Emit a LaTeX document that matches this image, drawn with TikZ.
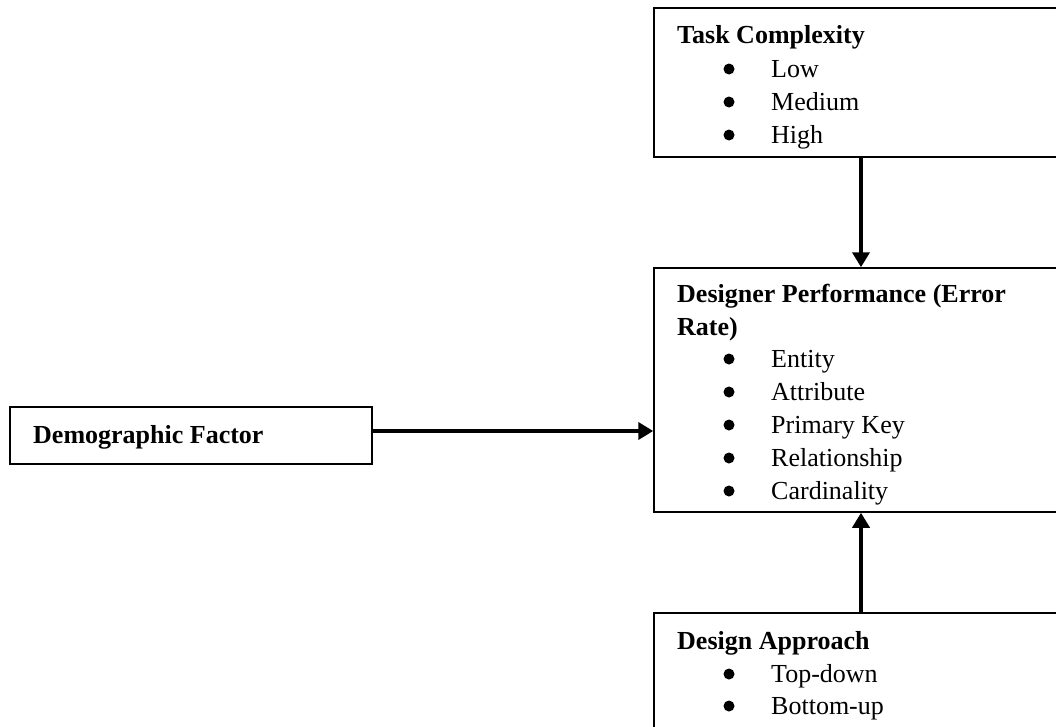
\documentclass[tikz,border=0pt]{standalone}
\usepackage{fontspec}
\setmainfont{Liberation Serif}
\usetikzlibrary{arrows.meta}
\begin{document}
\begin{tikzpicture}[x=1pt,y=-1pt,
  box/.style={draw=black,line width=1.5pt,inner sep=0pt},
  txt/.style={anchor=base west,inner sep=0pt,font=\fontsize{26}{30}\selectfont},
  ttl/.style={txt,font=\fontsize{26}{30}\selectfont\bfseries},
  bul/.style={circle,fill=black,inner sep=0pt,minimum size=11pt},
  arr/.style={line width=4.5pt,-{Triangle[length=15pt,width=17pt]}}]
\useasboundingbox (0,0) rectangle (1056,726);
\clip (0,0) rectangle (1056,726);
\fill[white] (0,0) rectangle (1056,726);
% boxes
\node[box,minimum width=414pt,minimum height=149pt] (task) at (861,82.5) {};
\node[box,minimum width=414pt,minimum height=244pt] (perf) at (861,390) {};
\node[box,minimum width=414pt,minimum height=140pt] (appr) at (861,683) {};
\node[box,minimum width=362pt,minimum height=57pt] (demo) at (191,435.5) {};
% texts
\node[ttl] (t1) at (677,43) {Task Complexity};
\foreach \y/\s [count=\i] in {77/Low,110/Medium,143/High}{
  \node[bul] (tb\i) at (729,\y-8) {};
  \node[txt] (ti\i) at (771,\y) {\s};
}
\node[ttl] (p1) at (677,302) {Designer Performance (Error};
\node[ttl] (p2) at (677,335) {Rate)};
\foreach \y/\s [count=\i] in {367/Entity,400/Attribute,433/Primary Key,466/Relationship,499/Cardinality}{
  \node[bul] (pb\i) at (729,\y-8) {};
  \node[txt] (pi\i) at (771,\y) {\s};
}
\node[ttl] (a1) at (677,649) {Design Approach};
\foreach \y/\s [count=\i] in {682/Top-down,714/Bottom-up}{
  \node[bul] (ab\i) at (729,\y-8) {};
  \node[txt] (ai\i) at (771,\y) {\s};
}
\node[ttl] (d1) at (33,443) {Demographic Factor};
% connectors
\draw[arr] (task.south) -- (perf.north);
\draw[arr] (appr.north) -- (perf.south);
\coordinate (dstart) at ([yshift=4.5pt]demo.east);
\draw[arr] (dstart) -- (dstart -| perf.west);
\end{tikzpicture}
\end{document}
